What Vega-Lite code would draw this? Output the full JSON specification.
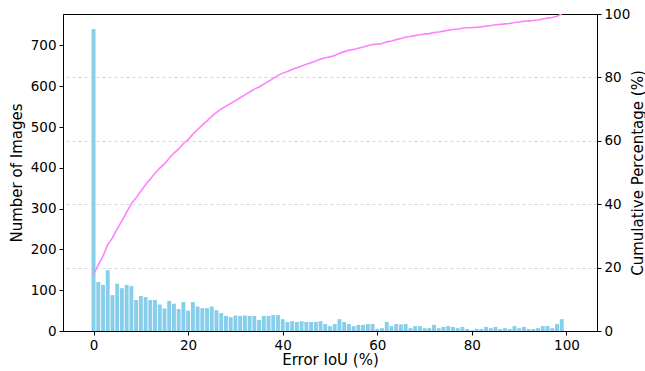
{
  "$schema": "https://vega.github.io/schema/vega-lite/v6.json",
  "width": 534,
  "height": 317,
  "autosize": {"type": "none"},
  "padding": {"left": 63, "top": 14, "right": 48, "bottom": 40},
  "background": "white",
  "config": {
    "view": {"stroke": "black", "strokeWidth": 1},
    "axis": {
      "labelFont": "DejaVu Sans", "titleFont": "DejaVu Sans",
      "labelFontSize": 13.5, "titleFontSize": 15, "titleFontWeight": "normal",
      "labelColor": "black", "titleColor": "black",
      "domainColor": "black", "tickColor": "black", "tickSize": 4,
      "labelPadding": 3
    }
  },
  "data": {"values": [
    {"iou":0,"count":740,"cum":17.97},{"iou":1,"count":120,"cum":20.88},{"iou":2,"count":113,"cum":23.62},{"iou":3,"count":149,"cum":27.24},{"iou":4,"count":88,"cum":29.38},
    {"iou":5,"count":116,"cum":32.19},{"iou":6,"count":105,"cum":34.74},{"iou":7,"count":113,"cum":37.49},{"iou":8,"count":110,"cum":40.16},{"iou":9,"count":76,"cum":42.00},
    {"iou":10,"count":86,"cum":44.09},{"iou":11,"count":83,"cum":46.10},{"iou":12,"count":76,"cum":47.95},{"iou":13,"count":76,"cum":49.79},{"iou":14,"count":65,"cum":51.37},
    {"iou":15,"count":55,"cum":52.71},{"iou":16,"count":74,"cum":54.50},{"iou":17,"count":67,"cum":56.13},{"iou":18,"count":54,"cum":57.44},{"iou":19,"count":71,"cum":59.16},
    {"iou":20,"count":50,"cum":60.38},{"iou":21,"count":71,"cum":62.10},{"iou":22,"count":60,"cum":63.56},{"iou":23,"count":56,"cum":64.92},{"iou":24,"count":56,"cum":66.28},
    {"iou":25,"count":60,"cum":67.73},{"iou":26,"count":51,"cum":68.97},{"iou":27,"count":44,"cum":70.04},{"iou":28,"count":37,"cum":70.94},{"iou":29,"count":34,"cum":71.76},
    {"iou":30,"count":38,"cum":72.69},{"iou":31,"count":37,"cum":73.59},{"iou":32,"count":38,"cum":74.50},{"iou":33,"count":37,"cum":75.41},{"iou":34,"count":37,"cum":76.30},
    {"iou":35,"count":27,"cum":76.96},{"iou":36,"count":37,"cum":77.86},{"iou":37,"count":37,"cum":78.76},{"iou":38,"count":39,"cum":79.70},{"iou":39,"count":39,"cum":80.65},
    {"iou":40,"count":29,"cum":81.35},{"iou":41,"count":22,"cum":81.89},{"iou":42,"count":24,"cum":82.47},{"iou":43,"count":22,"cum":83.01},{"iou":44,"count":24,"cum":83.59},
    {"iou":45,"count":22,"cum":84.12},{"iou":46,"count":22,"cum":84.66},{"iou":47,"count":22,"cum":85.19},{"iou":48,"count":24,"cum":85.77},{"iou":49,"count":17,"cum":86.19},
    {"iou":50,"count":12,"cum":86.48},{"iou":51,"count":17,"cum":86.89},{"iou":52,"count":29,"cum":87.59},{"iou":53,"count":22,"cum":88.13},{"iou":54,"count":17,"cum":88.54},
    {"iou":55,"count":12,"cum":88.83},{"iou":56,"count":15,"cum":89.20},{"iou":57,"count":15,"cum":89.56},{"iou":58,"count":17,"cum":89.97},{"iou":59,"count":17,"cum":90.39},
    {"iou":60,"count":5,"cum":90.51},{"iou":61,"count":7,"cum":90.68},{"iou":62,"count":22,"cum":91.21},{"iou":63,"count":12,"cum":91.50},{"iou":64,"count":17,"cum":91.92},
    {"iou":65,"count":16,"cum":92.30},{"iou":66,"count":17,"cum":92.72},{"iou":67,"count":7,"cum":92.89},{"iou":68,"count":12,"cum":93.18},{"iou":69,"count":12,"cum":93.47},
    {"iou":70,"count":7,"cum":93.64},{"iou":71,"count":7,"cum":93.81},{"iou":72,"count":15,"cum":94.17},{"iou":73,"count":7,"cum":94.34},{"iou":74,"count":10,"cum":94.59},
    {"iou":75,"count":12,"cum":94.88},{"iou":76,"count":10,"cum":95.12},{"iou":77,"count":7,"cum":95.29},{"iou":78,"count":10,"cum":95.53},{"iou":79,"count":5,"cum":95.65},
    {"iou":80,"count":2,"cum":95.70},{"iou":81,"count":5,"cum":95.82},{"iou":82,"count":5,"cum":95.95},{"iou":83,"count":10,"cum":96.19},{"iou":84,"count":7,"cum":96.36},
    {"iou":85,"count":10,"cum":96.60},{"iou":86,"count":5,"cum":96.72},{"iou":87,"count":7,"cum":96.89},{"iou":88,"count":5,"cum":97.01},{"iou":89,"count":12,"cum":97.31},
    {"iou":90,"count":7,"cum":97.47},{"iou":91,"count":10,"cum":97.72},{"iou":92,"count":5,"cum":97.84},{"iou":93,"count":5,"cum":97.96},{"iou":94,"count":7,"cum":98.13},
    {"iou":95,"count":12,"cum":98.42},{"iou":96,"count":12,"cum":98.71},{"iou":97,"count":7,"cum":98.88},{"iou":98,"count":17,"cum":99.30},{"iou":99,"count":29,"cum":100.00}
  ]},
  "encoding": {
    "x": {
      "field": "iou", "type": "quantitative",
      "scale": {"domain": [-5.4, 105.4], "nice": false, "zero": false},
      "axis": {"title": "Error IoU (%)", "values": [0,20,40,60,80,100], "grid": false, "titlePadding": 1}
    }
  },
  "layer": [
    {
      "mark": {"type": "bar", "width": 3.9, "color": "#87CEEB"},
      "encoding": {
        "y": {
          "field": "count", "type": "quantitative",
          "scale": {"domain": [0, 777], "nice": false},
          "axis": {"title": "Number of Images", "values": [0,100,200,300,400,500,600,700], "grid": false, "orient": "left", "titlePadding": 6}
        }
      }
    },
    {
      "mark": {"type": "line", "color": "#FF80FF", "strokeWidth": 1.6, "clip": true},
      "encoding": {
        "y": {
          "field": "cum", "type": "quantitative",
          "scale": {"domain": [0, 100], "nice": false},
          "axis": {
            "title": "Cumulative Percentage (%)", "orient": "right", "titleAngle": 270,
            "titleX": 45, "titleY": 158.5, "titleAlign": "center", "titleBaseline": "alphabetic",
            "values": [0,20,40,60,80,100], "grid": true, "gridDash": [3,3],
            "gridColor": {"condition": {"test": "datum.value === 100 || datum.value === 0", "value": "transparent"}, "value": "#cccccc"},
            "gridWidth": 0.8
          }
        }
      }
    }
  ],
  "resolve": {"scale": {"y": "independent"}}
}
